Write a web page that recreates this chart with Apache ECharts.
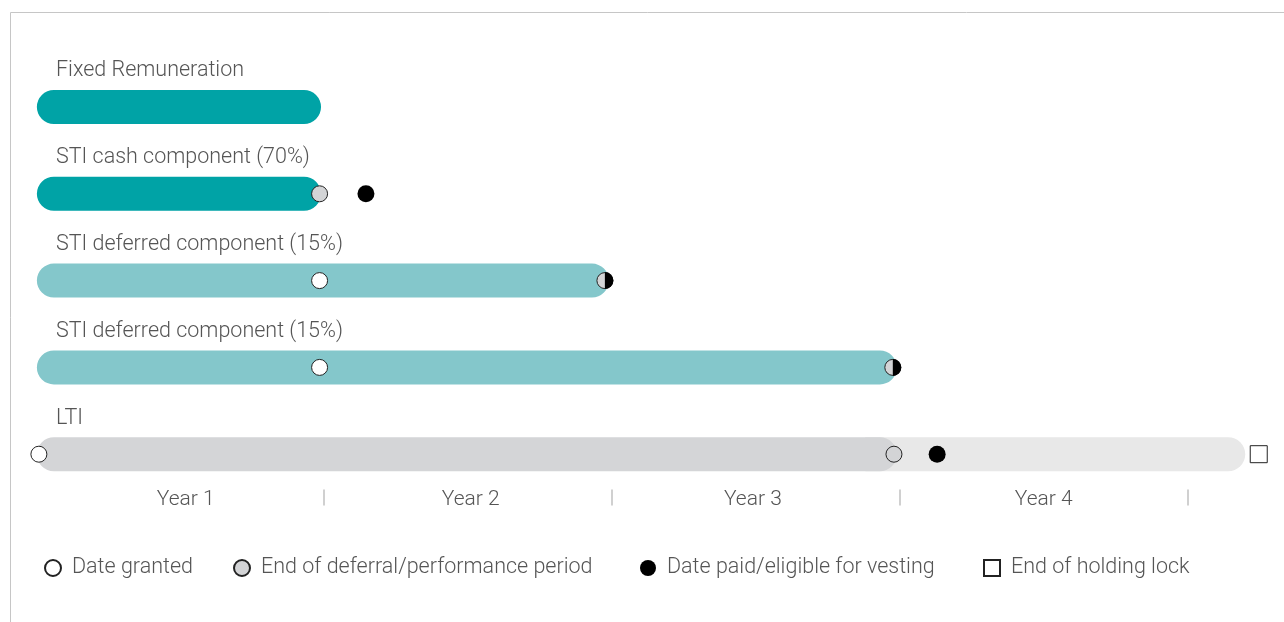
<!DOCTYPE html>
<html><head><meta charset="utf-8">
<script src="https://cdn.jsdelivr.net/npm/echarts@6/dist/echarts.min.js"></script>
<style>html,body{margin:0;padding:0;background:#fff}#c{width:1284px;height:622px}</style>
</head><body><div id="c"></div>
<script>
// ---- data ----
const rowNames = ['Fixed Remuneration','STI cash component (70%)','STI deferred component (15%)','STI deferred component (15%)','LTI'];
const yearLabels = ['Year 1','Year 2','Year 3','Year 4'];
const yearLabelPos = [0.52,1.51,2.49,3.5];
const yearTickPos = [1,2,3,4];
const legendNames = ['Date granted','End of deferral/performance period','Date paid/eligible for vesting','End of holding lock'];
// bars: [start, end, rowIndex]
const mainBars = [[0.003,0.99,0],[0.003,0.99,1],[0.003,1.99,2],[0.003,2.99,3],[0.003,2.99,4]];
const holdingBars = [[2.88,4.2,4]];
// markers: [x, rowIndex]
const dateGranted = [[0.985,2],[0.985,3],[0.01,4]];
const endDeferral = [[0.985,1],[2.98,4]];
const datePaid = [[1.146,1],[3.13,4]];
const endAndPaid = [[1.976,2],[2.976,3]];
const holdingLock = [[4.247,4]];

// ---- styles ----
const barColors = ['#00A3A6','#00A3A6','#84C7CB','#84C7CB','#D4D5D7'];
const holdColor = '#E8E8E8';
const txt = '#555';
const FONT = 'Roboto';
const legendLefts = [44, 233, 640, 983];

const chart = echarts.init(document.getElementById('c'), null, {renderer:'canvas'});
const BAR_H = 34;
function barRender(colorFn, radius){
  return function(params, api){
    const a = api.coord([api.value(0), api.value(2)]);
    const b = api.coord([api.value(1), api.value(2)]);
    return {type:'rect', shape:{x:a[0], y:a[1]-BAR_H/2, width:b[0]-a[0], height:BAR_H, r:radius},
      style:{fill: colorFn(params.dataIndex, api.value(2))}};
  };
}
chart.setOption({
  animation:false,
  graphic:[{type:'rect', shape:{x:10.5,y:12.5,width:1300,height:700}, style:{fill:'none', stroke:'#c6c6c6', lineWidth:1}, silent:true, z:-1}],
  grid:{left:36, right:10, top:63.6, height:434},
  xAxis:{type:'value', min:0, max:4.3, offset:-8,
    axisLine:{show:false}, splitLine:{show:false},
    axisTick:{show:true, customValues:yearTickPos, length:16, lineStyle:{color:'#d0d0d0', width:2}},
    axisLabel:{show:true, customValues:yearLabelPos, margin:0, fontFamily:FONT, fontSize:21, fontWeight:300, color:txt,
      formatter:function(v){ const i=yearLabelPos.indexOf(v); return i>=0?yearLabels[i]:''; }}},
  yAxis:{type:'category', data:rowNames, inverse:true, show:false},
  legend: legendNames.map((n,i)=>({left:legendLefts[i], top:557, padding:0, itemWidth:16, itemHeight:16,
    textStyle:{fontFamily:FONT, fontSize:21.5, fontWeight:300, color:txt, padding:[0,0,0,6]},
    data:[n]})),
  series:[
    {type:'custom', name:'holding', renderItem:barRender(()=>holdColor, [0,BAR_H/2,BAR_H/2,0]), data:holdingBars, encode:{x:[0,1],y:2}, z:1},
    {type:'custom', name:'bars', renderItem:barRender((i,r)=>barColors[r], BAR_H/2), data:mainBars, encode:{x:[0,1],y:2}, z:2},
    {type:'custom', name:'labels', data:mainBars, encode:{x:0,y:2}, z:3,
      renderItem:function(params, api){
        const p = api.coord([0, api.value(2)]);
        return {type:'text', x:p[0]+20, y:p[1]-36, style:{text:rowNames[api.value(2)], fontFamily:FONT, fontSize:21.5, fontWeight:300, fill:txt, verticalAlign:'middle', align:'left'}};
      }},
    {type:'scatter', name:legendNames[0], data:dateGranted, symbol:'circle', symbolSize:16, z:5,
      itemStyle:{color:'#fff', borderColor:'#222', borderWidth:1, opacity:1}},
    {type:'scatter', name:legendNames[1], data:endDeferral, symbol:'circle', symbolSize:16, z:5,
      itemStyle:{color:'#D3D4D6', borderColor:'#222', borderWidth:1, opacity:1}},
    {type:'scatter', name:legendNames[2], data:datePaid, symbol:'circle', symbolSize:17, z:5,
      itemStyle:{color:'#000', borderColor:'#000', borderWidth:0, opacity:1}},
    {type:'scatter', name:legendNames[3], data:holdingLock, symbol:'rect', symbolSize:17, z:5,
      itemStyle:{color:'#fff', borderColor:'#222', borderWidth:1, opacity:1}},
    {type:'custom', name:'endPaid', data:endAndPaid, encode:{x:0,y:1}, z:6,
      renderItem:function(params, api){
        const p = api.coord([api.value(0), api.value(1)]);
        const r = 8;
        return {type:'group', children:[
          {type:'circle', shape:{cx:p[0], cy:p[1], r:r}, style:{fill:'#D3D4D6', stroke:'#222', lineWidth:1}},
          {type:'sector', shape:{cx:p[0], cy:p[1], r0:0, r:r+0.5, startAngle:-Math.PI/2, endAngle:Math.PI/2, clockwise:true}, style:{fill:'#000'}}
        ]};
      }}
  ]
});
</script></body></html>
